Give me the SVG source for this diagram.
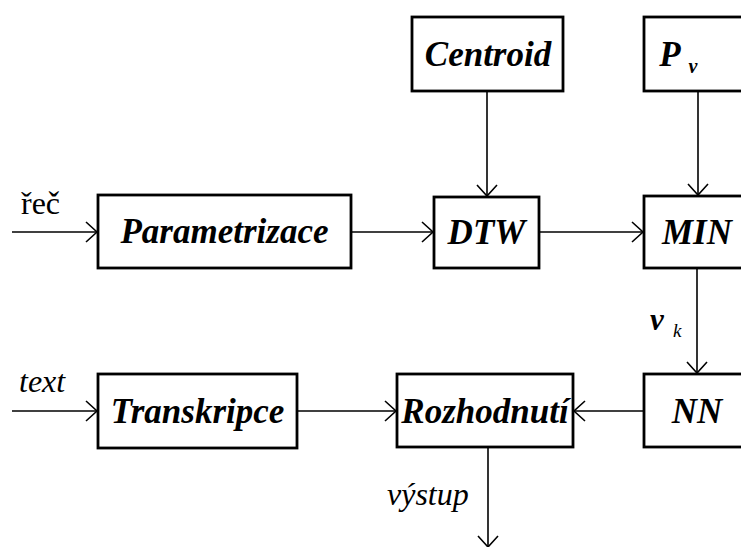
<svg xmlns="http://www.w3.org/2000/svg" width="741" height="547" viewBox="0 0 741 547">
<style>
.box{fill:#fff;stroke:#000;stroke-width:2.8}
.lbl{font-family:'Liberation Serif','DejaVu Serif','Noto Serif',serif;font-weight:bold;font-style:italic;font-size:35px;text-anchor:middle;fill:#000}
.conn{stroke:#000;stroke-width:1.6;fill:none}
.head{stroke:#000;stroke-width:1.6;fill:none}
.side{font-family:'Liberation Serif','DejaVu Serif','Noto Serif',serif;font-size:32px;fill:#000}
.it{font-style:italic}
</style>
<rect width="741" height="547" fill="#fff"/>
<g id="connectors">
<line class="conn" x1="12" y1="232" x2="97" y2="232"/>
<polyline class="head" points="86,222 97,232 86,242"/>
<line class="conn" x1="351" y1="232" x2="433" y2="232"/>
<polyline class="head" points="422,222 433,232 422,242"/>
<line class="conn" x1="539" y1="232" x2="643" y2="232"/>
<polyline class="head" points="632,222 643,232 632,242"/>
<line class="conn" x1="487" y1="91" x2="487" y2="196"/>
<polyline class="head" points="477,185 487,196 497,185"/>
<line class="conn" x1="698" y1="91" x2="698" y2="195"/>
<polyline class="head" points="688,184 698,195 708,184"/>
<line class="conn" x1="697" y1="268" x2="697" y2="373"/>
<polyline class="head" points="687,362 697,373 707,362"/>
<line class="conn" x1="12" y1="411" x2="97" y2="411"/>
<polyline class="head" points="86,401 97,411 86,421"/>
<line class="conn" x1="297" y1="411" x2="396" y2="411"/>
<polyline class="head" points="385,401 396,411 385,421"/>
<line class="conn" x1="644" y1="411" x2="574" y2="411"/>
<polyline class="head" points="585,401 574,411 585,421"/>
<line class="conn" x1="488" y1="447" x2="488" y2="547"/>
<polyline class="head" points="478,536 488,547 498,536"/>
<text class="side" x="21" y="214">řeč</text>
<text class="side it" x="19" y="392">text</text>
<text class="side it" x="387" y="505">výstup</text>
<text class="side" x="650" y="330" style="font-weight:bold;font-style:italic;font-size:31px">v</text>
<text class="side it" x="673" y="337" style="font-size:19px">k</text>
</g>
<g id="parametrizace">
<rect class="box" x="98" y="195" width="253" height="73"/>
<text class="lbl" x="224.5" y="243">Parametrizace</text>
</g>
<g id="centroid">
<rect class="box" x="412" y="17" width="151" height="74"/>
<text class="lbl" x="488" y="66">Centroid</text>
</g>
<g id="pv">
<rect class="box" x="644" y="17" width="110" height="74"/>
<text class="lbl" x="670" y="66">P</text>
<text class="lbl" x="693" y="73" style="font-size:20px">v</text>
</g>
<g id="dtw">
<rect class="box" x="434" y="197" width="105" height="71"/>
<text class="lbl" x="486.5" y="244">DTW</text>
</g>
<g id="min">
<rect class="box" x="644" y="196" width="110" height="72"/>
<text class="lbl" x="697" y="244">MIN</text>
</g>
<g id="transkripce">
<rect class="box" x="98" y="374" width="199" height="74"/>
<text class="lbl" x="197.5" y="423">Transkripce</text>
</g>
<g id="rozhodnuti">
<rect class="box" x="397" y="374" width="176" height="73"/>
<text class="lbl" x="485" y="423">Rozhodnutí</text>
</g>
<g id="nn">
<rect class="box" x="644" y="374" width="110" height="73"/>
<text class="lbl" x="697" y="423">NN</text>
</g>
</svg>
